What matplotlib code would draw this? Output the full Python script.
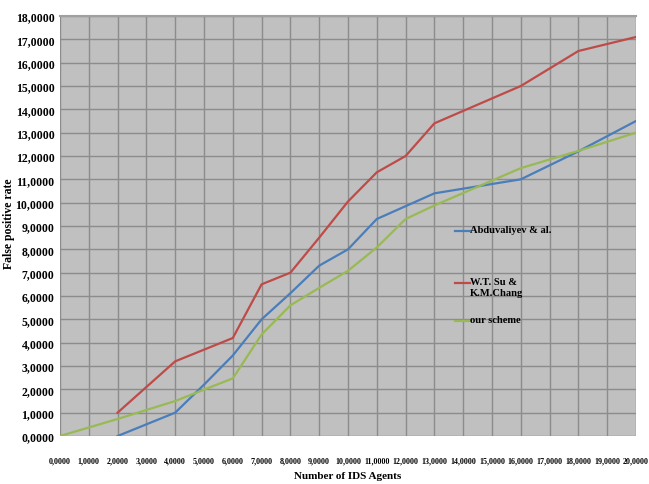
import matplotlib
matplotlib.use("Agg")
import matplotlib.pyplot as plt
from matplotlib.lines import Line2D

x_agents = list(range(0, 21))
x_tick_labels = [f"{v},0000" for v in x_agents]
y_tick_labels = [f"{v},0000" for v in range(0, 19)]

abdu_x = [2, 4, 5, 6, 7, 8, 9, 10, 11, 12, 13, 16, 18, 20]
abdu_y = [0.0, 1.0, 2.2, 3.45, 5.0, 6.12, 7.3, 8.0, 9.3, 9.85, 10.4, 11.0, 12.2, 13.5]

su_x = [2, 4, 6, 7, 8, 9, 10, 11, 12, 13, 16, 18, 20]
su_y = [1.0, 3.2, 4.2, 6.5, 7.0, 8.5, 10.05, 11.3, 12.0, 13.4, 15.0, 16.5, 17.1]

ours_x = [0, 2, 4, 6, 7, 8, 9, 10, 11, 12, 13, 16, 18, 20]
ours_y = [0.0, 0.73, 1.5, 2.47, 4.35, 5.6, 6.35, 7.08, 8.08, 9.3, 9.88, 11.48, 12.22, 13.0]

series_names = ["Abduvaliyev & al.", "W.T. Su &\nK.M.Chang", "our scheme"]
colors = ["#4A7EBB", "#BE4B48", "#98B954"]

plt.rcParams['font.family'] = ['Liberation Serif', 'DejaVu Serif']
plt.rcParams['font.weight'] = 'bold'

W, H = 649, 485
fig = plt.figure(figsize=(6.49, 4.85), dpi=100)
ax = fig.add_axes([60/W, 48/H, 576/W, 420/H])
ax.set_facecolor("#C0C0C0")

ax.plot(abdu_x, abdu_y, color=colors[0], lw=1.6)
ax.plot(su_x, su_y, color=colors[1], lw=1.6)
ax.plot(ours_x, ours_y, color=colors[2], lw=1.6)

ax.set_xlim(0, 20)
ax.set_ylim(0, 18)
ax.set_xticks(x_agents)
ax.set_xticklabels(x_tick_labels, fontsize=5.8, fontweight='bold')
ax.set_yticks(range(0, 19))
ax.set_yticklabels(y_tick_labels, fontsize=8.5, fontweight='bold')
ax.tick_params(length=0, pad=4)
ax.tick_params(axis='x', pad=15)
ax.grid(True, color="#8C8C8C", lw=1.0)
ax.set_axisbelow(True)
for s in ["left", "bottom", "right"]:
    ax.spines[s].set_visible(False)
ax.spines["top"].set_color("#A0A0A0")
ax.spines["top"].set_linewidth(1.5)

fig.text(348/W, 1 - 477/H, "Number of IDS Agents", fontsize=8, fontweight='bold',
         ha='center', va='center')
fig.text(9/W, 1 - 224/H, "False positive rate", rotation=90, fontsize=8.5,
         fontweight='bold', ha='center', va='center')

# manual legend (no frame), matching the reference placement
leg_rows = [232, 284, 322]
for name, col, yy in zip(series_names, colors, leg_rows):
    fy = 1 - yy / H
    fig.add_artist(Line2D([455/W, 470/W], [fy, fy], color=col, lw=1.6,
                          transform=fig.transFigure))
    fig.text(470/W, fy + 6/H, name, fontsize=7.6, fontweight='bold',
             ha='left', va='top', linespacing=1.3)

fig.savefig("out.png", dpi=100, facecolor="white")
